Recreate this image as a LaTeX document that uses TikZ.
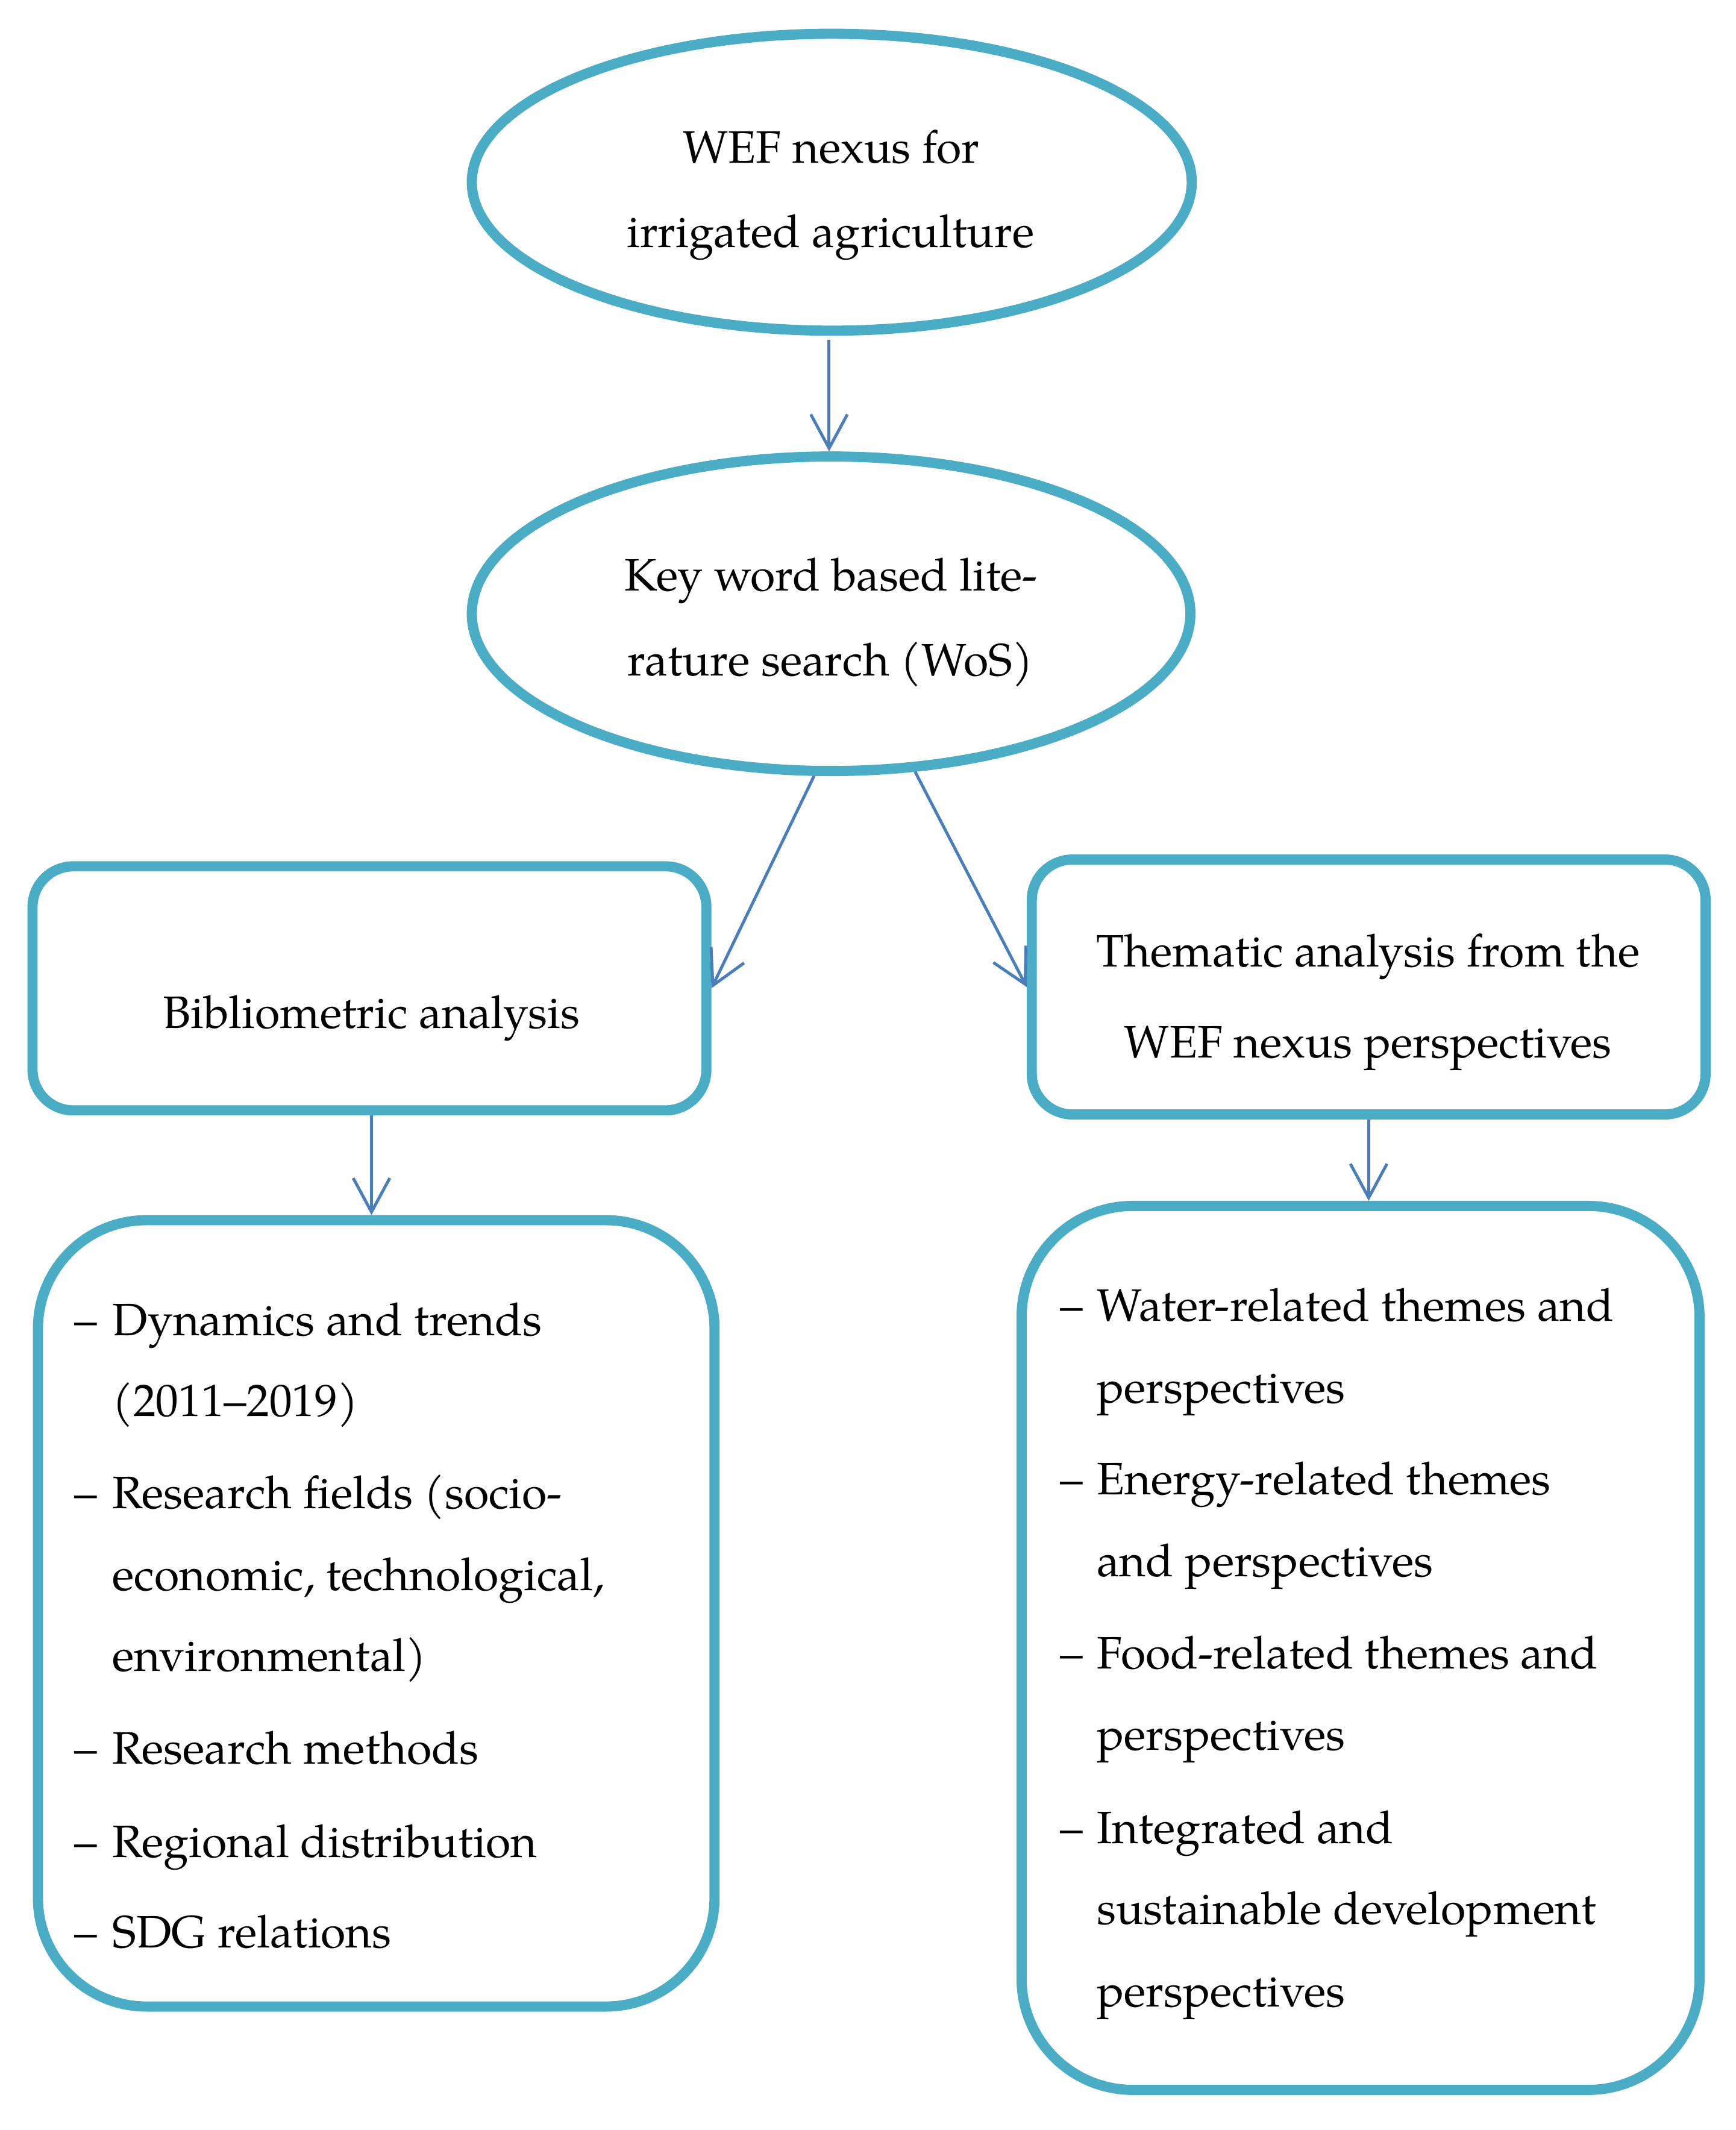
\documentclass[tikz,border=0pt]{standalone}
\usepackage{fontspec}
\setmainfont{texgyrepagella-regular.otf}
\usetikzlibrary{arrows.meta,shapes.geometric,calc}
\definecolor{ringc}{HTML}{4BACC6}
\definecolor{arrc}{HTML}{4A7EBB}
\begin{document}
\begin{tikzpicture}[x=1pt,y=-1pt,
  ring/.style={draw=ringc,line width=7.5pt,inner sep=0pt,fill=white},
  oval/.style={ring,ellipse},
  rbox/.style={ring,rectangle},
  txt/.style={inner sep=0pt,outer sep=0pt,font=\fontsize{33.5pt}{40pt}\selectfont},
  ctr/.style={txt,anchor=base},
  lft/.style={txt,anchor=base west},
  conn/.style={draw=arrc,line width=2.2pt,-{Straight Barb[length=25pt,width=27pt,line width=2.2pt]}}
]
\useasboundingbox (0,0) rectangle (1280,1571.1);
\fill[white] (0,0) rectangle (1280,1571.1);

% shapes
\node[oval,minimum width=531pt,minimum height=219pt] (e1) at (613.5,134.4) {};
\node[oval,minimum width=530pt,minimum height=232pt] (e2) at (613,452.7) {};
\node[rbox,rounded corners=30pt,minimum width=497pt,minimum height=180pt] (b1) at (272.5,729) {};
\node[rbox,rounded corners=30pt,minimum width=497pt,minimum height=188pt] (b2) at (1009.5,728) {};
\node[rbox,rounded corners=80pt,minimum width=499pt,minimum height=580pt] (b3) at (277.5,1190) {};
\node[rbox,rounded corners=82pt,minimum width=500pt,minimum height=652pt] (b4) at (1003.5,1215.5) {};

% texts in ellipses and boxes
\node[ctr] (t1a) at (613,120) {WEF nexus for};
\node[ctr] (t1b) at (612.6,182.5) {irrigated agriculture};
\node[ctr] (t2a) at (613,435.6) {Key word based lite-};
\node[ctr] (t2b) at (612.5,498.6) {rature search (WoS)};
\node[ctr] (t3) at (274,758.5) {Bibliometric analysis};
\node[ctr] (t4a) at (1009,713.2) {Thematic analysis from the};
\node[ctr] (t4b) at (1009,780) {WEF nexus perspectives};

% left list
\node[lft] (ld1) at (55,985) {–};
\node[lft] (l1) at (83,985) {Dynamics and trends};
\node[lft] (l2) at (83,1044.5) {(2011–2019)};
\node[lft] (ld2) at (55,1112.5) {–};
\node[lft] (l3) at (83,1112.5) {Research fields (socio-};
\node[lft] (l4) at (83,1173) {economic, technological,};
\node[lft] (l5) at (83,1232.5) {environmental)};
\node[lft] (ld3) at (55,1301) {–};
\node[lft] (l6) at (83,1301) {Research methods};
\node[lft] (ld4) at (55,1370) {–};
\node[lft] (l7) at (83,1370) {Regional distribution};
\node[lft] (ld5) at (55,1436.5) {–};
\node[lft] (l8) at (83,1436.5) {SDG relations};

% right list
\node[lft] (rd1) at (782,974.5) {–};
\node[lft] (r1) at (809,974.5) {Water-related themes and};
\node[lft] (r2) at (809,1035) {perspectives};
\node[lft] (rd2) at (782,1102.5) {–};
\node[lft] (r3) at (809,1102.5) {Energy-related themes};
\node[lft] (r4) at (809,1163) {and perspectives};
\node[lft] (rd3) at (782,1230.7) {–};
\node[lft] (r5) at (809,1230.7) {Food-related themes and};
\node[lft] (r6) at (809,1291) {perspectives};
\node[lft] (rd4) at (782,1359.6) {–};
\node[lft] (r7) at (809,1359.6) {Integrated and};
\node[lft] (r8) at (809,1419.5) {sustainable development};
\node[lft] (r9) at (809,1480) {perspectives};

% connectors
\coordinate (a1s) at ($(e1.south)+(-2,0)$);
\coordinate (a4s) at ($(b1.south)+(1.5,0)$);
\draw[conn,shorten <=3pt] (a1s) -- (a1s |- e2.north);
\draw[conn] (e2.-96) -- (b1.east);
\draw[conn] (e2.-62) -- (b2.west);
\draw[conn] (a4s) -- (a4s |- b3.north);
\draw[conn] (b2.south) -- (b2.south |- b4.north);
\end{tikzpicture}
\end{document}
